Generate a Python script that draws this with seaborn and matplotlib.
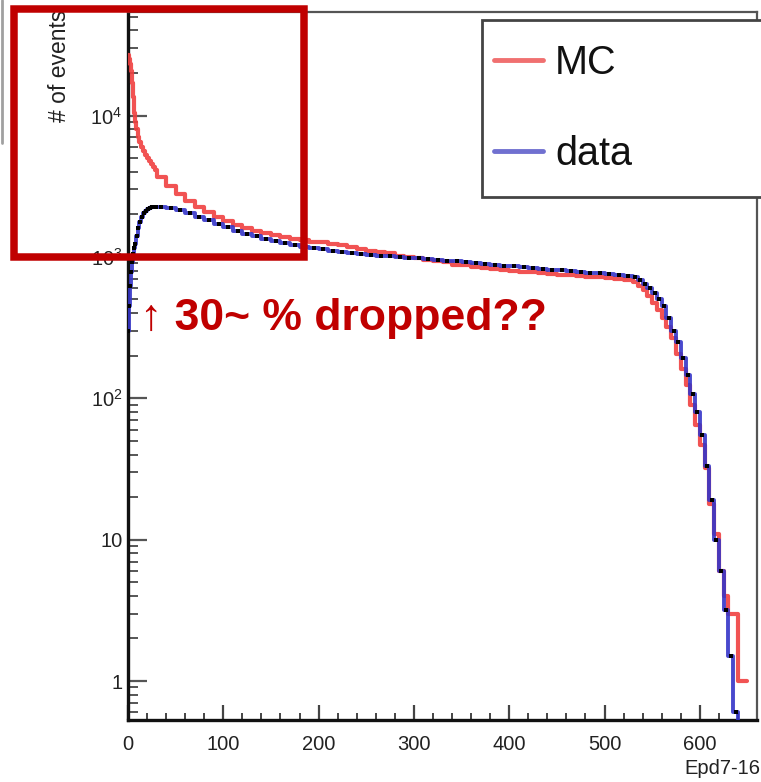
import matplotlib
matplotlib.use("Agg")
import matplotlib.pyplot as plt
import seaborn as sns
import numpy as np
import pandas as pd
from matplotlib.patches import Rectangle
from matplotlib.lines import Line2D
from matplotlib.ticker import FixedLocator, MultipleLocator, LogLocator, NullFormatter, FixedFormatter

# ---------------- data ----------------
bin_edges = (list(range(0, 9, 1)) + list(range(10, 31, 2)) +
             list(range(40, 531, 10)) + list(range(535, 651, 5)))

mc_counts = [
    26600, 25000, 23000, 20500, 17000, 13500, 10500, 9000,
    8000, 7100, 6500, 6000, 5600, 5250, 5000, 4750, 4550, 4350, 4150,
    3650, 3150, 2800, 2500, 2250, 2080, 1930, 1800, 1680, 1600,
    1530, 1470, 1420, 1380, 1345, 1310, 1285, 1280, 1230, 1205,
    1170, 1140, 1105, 1080, 1060, 1020, 1000, 975, 955, 930,
    915, 880, 870, 855, 838, 822, 812, 798, 782, 778,
    770, 760, 748, 742, 732, 726, 716, 710, 700, 688,
    665, 625, 585, 530, 470, 420, 370, 320, 265, 205, 160, 125,
    90, 65, 47, 32, 18, 11, 6, 4, 3, 3, 1, 1,
]

data_counts = [
    300, 450, 620, 780, 920, 1050, 1150, 1240,
    1400, 1600, 1780, 1920, 2030, 2110, 2170, 2210, 2240, 2260, 2270,
    2270, 2220, 2140, 2040, 1930, 1820, 1720, 1620, 1530, 1460,
    1400, 1340, 1290, 1245, 1205, 1170, 1150, 1130, 1110, 1090,
    1070, 1052, 1036, 1022, 1010, 1000, 990, 980, 968, 955,
    942, 930, 916, 902, 890, 878, 868, 856, 845, 833,
    822, 812, 802, 792, 782, 772, 764, 754, 744, 732,
    718, 685, 645, 600, 560, 505, 450, 370, 300, 250, 193, 145,
    108, 80, 55, 33, 19, 10, 6, 3.2, 1.5, 0.6, 0, 0,
]

series_labels = ["MC", "data"]
x_title = "Epd7-16"
y_title = "# of events"
y_tick_values = [1, 10, 100, 1000, 10000]
y_tick_labels = ["1", "10", "10$^{2}$", "10$^{3}$", "10$^{4}$"]
x_tick_values = [0, 100, 200, 300, 400, 500, 600]
note_text = "\u2191 30~ % dropped??"

# ---------------- style ----------------
sns.set_style("white")
plt.rcParams["font.family"] = ["Liberation Sans", "DejaVu Sans", "Noto Sans CJK JP"]
plt.rcParams["mathtext.fontset"] = "custom"
plt.rcParams["mathtext.rm"] = "Liberation Sans"
plt.rcParams["mathtext.it"] = "Liberation Sans"

W, H = 761, 782
fig = plt.figure(figsize=(W / 100, H / 100), dpi=100)
fig.patch.set_facecolor("white")
ax = fig.add_axes([128 / W, 1 - 720 / H, (757 - 128) / W, (720 - 12) / H])

centers = [(a + b) / 2 for a, b in zip(bin_edges[:-1], bin_edges[1:])]
df = pd.DataFrame({"center": centers,
                   "mc": [float(v) for v in mc_counts],
                   "data": [float(v) for v in data_counts]})

RED = "#f04040"
BLUE = "#3535c8"

sns.histplot(data=df, x="center", weights="mc", bins=list(bin_edges),
             element="step", fill=False, color=RED, linewidth=3.0, alpha=0.9,
             ax=ax, zorder=3)
sns.histplot(data=df, x="center", weights="data", bins=list(bin_edges),
             element="step", fill=False, color=BLUE, linewidth=2.8, alpha=0.9,
             ax=ax, zorder=4)
sns.scatterplot(data=df[df["data"] > 0], x="center", y="data", color="black",
                s=5, marker="s", linewidth=0, ax=ax, zorder=5)

ax.set_yscale("log")
ax.set_xlim(0, 660)
ax.set_ylim(0.53, 54000)
ax.set_xlabel("")
ax.set_ylabel("")

# ticks
ax.xaxis.set_major_locator(FixedLocator(x_tick_values))
ax.xaxis.set_minor_locator(MultipleLocator(20))
ax.yaxis.set_major_locator(FixedLocator(y_tick_values))
ax.yaxis.set_major_formatter(FixedFormatter(y_tick_labels))
ax.yaxis.set_minor_locator(LogLocator(base=10, subs=np.arange(2, 10)))
ax.yaxis.set_minor_formatter(NullFormatter())
ax.tick_params(axis="x", which="major", direction="in", length=11, width=1.6,
               color="#444444", labelsize=14.5, pad=11, labelcolor="#222222",
               top=False, bottom=True)
ax.tick_params(axis="x", which="minor", direction="in", length=5, width=1.4,
               color="#444444", top=False, bottom=True)
ax.tick_params(axis="y", which="major", direction="in", length=14, width=1.6,
               color="#555555", labelsize=14.5, pad=4, labelcolor="#222222",
               right=False, left=True)
ax.tick_params(axis="y", which="minor", direction="in", length=7, width=1.4,
               color="#555555", right=False, left=True)

for s in ["left", "bottom"]:
    ax.spines[s].set_color("#111111")
    ax.spines[s].set_linewidth(2.4)
for s in ["top", "right"]:
    ax.spines[s].set_visible(True)
    ax.spines[s].set_color("#555555")
    ax.spines[s].set_linewidth(1.6)

# axis titles (ROOT style)
fig.text(760 / W, 1 - 768 / H, x_title, ha="right", va="center",
         fontsize=14.5, color="#222222")
fig.text(60 / W, 1 - 122 / H, y_title, rotation=90, ha="center", va="bottom",
         fontsize=16.5, color="#222222")

# legend: ROOT-like box (inside the axes, below the legend entries)
legend_box = Rectangle((482 / W, 1 - 197 / H), 300 / W, 177 / H,
                       transform=fig.transFigure, facecolor="white",
                       edgecolor="#444444", linewidth=2, zorder=9,
                       clip_on=False)
ax.add_patch(legend_box)
handles = [Line2D([], [], color="#f07070", lw=3.5),
           Line2D([], [], color="#7070d0", lw=3.5)]
leg = ax.legend(handles, series_labels, loc="center left",
                bbox_to_anchor=(482 / W, 1 - 197 / H, 270 / W, 177 / H),
                bbox_transform=fig.transFigure,
                fontsize=28.5, frameon=False, borderpad=0.3,
                labelspacing=1.33, handlelength=1.25, handletextpad=0.3,
                borderaxespad=0, labelcolor="#111111")
leg.set_zorder(10)

# screenshot artefact line at the far left
fig.add_artist(Line2D([2 / W, 2 / W], [1, 1 - 143 / H], color="#a0a0a0", lw=2,
                      transform=fig.transFigure))

# annotation box and note
fig.add_artist(Rectangle((13.5 / W, 1 - 257.5 / H), (304 - 13.5) / W,
                         (257.5 - 9) / H, transform=fig.transFigure,
                         fill=False, edgecolor="#c00000", linewidth=5.4,
                         zorder=20))
fig.text(140 / W, 1 - 330 / H, note_text, ha="left", va="baseline",
         fontsize=32, fontweight="bold", color="#c00000", zorder=21)

fig.savefig("out.png", dpi=100, facecolor="white")
